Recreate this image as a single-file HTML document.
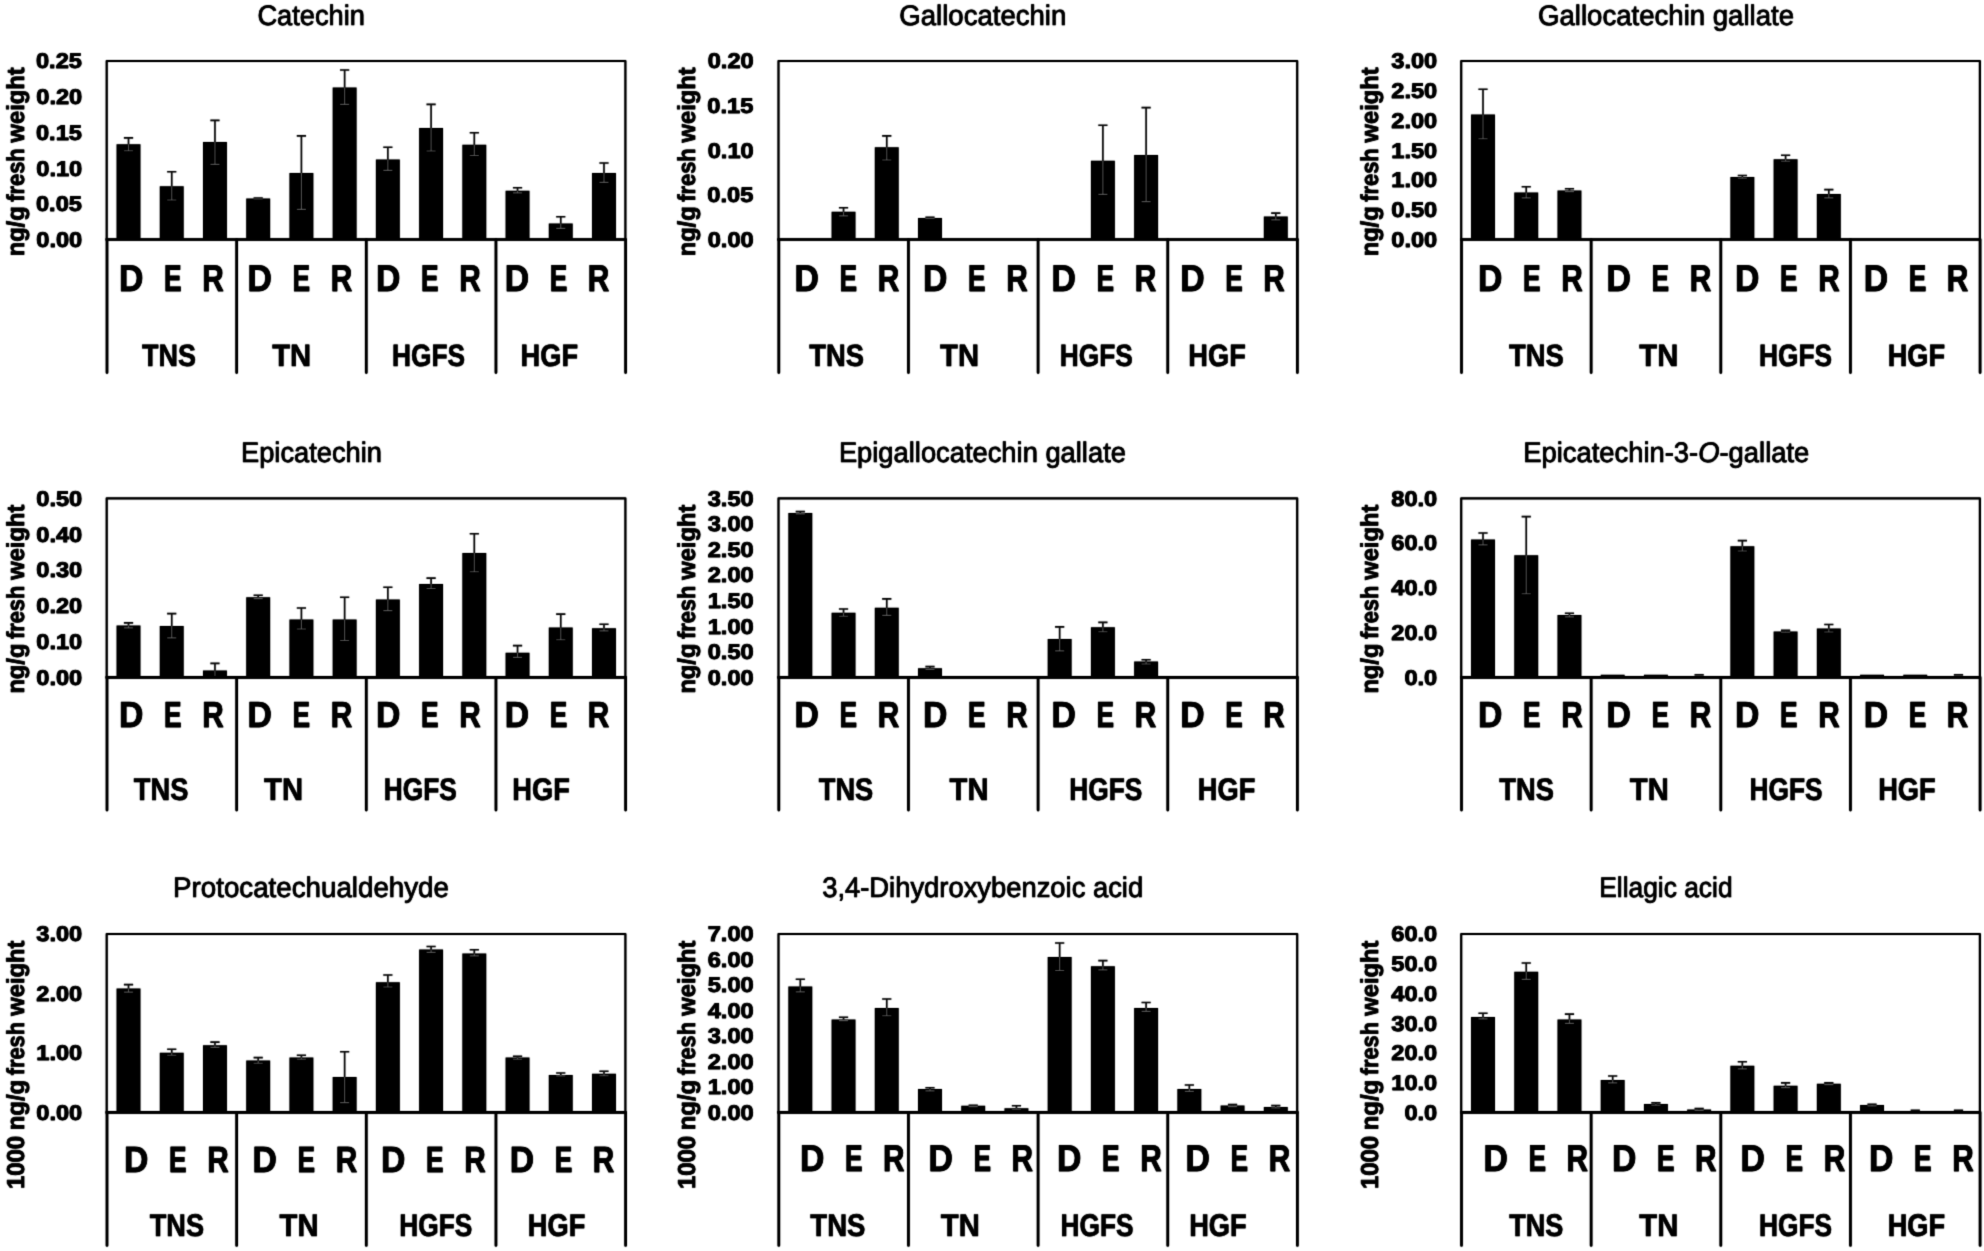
<!DOCTYPE html>
<html lang="en"><head><meta charset="utf-8"><title>Phenolic compound contents in D, E and R samples of TNS, TN, HGFS and HGF</title>
<style>
html,body{margin:0;padding:0;background:#fff}
body{width:1984px;height:1251px;overflow:hidden;font-family:"Liberation Sans", Arial, Helvetica, sans-serif}
svg{display:block}
text{font-family:"Liberation Sans", Arial, Helvetica, sans-serif;font-kerning:none;text-rendering:geometricPrecision;fill:#000;stroke:#000;stroke-linejoin:round;vector-effect:non-scaling-stroke}
.tt{font-size:26.6px;stroke-width:0.65px}
.tk{font-size:21.3px;font-weight:700;stroke-width:0.8px}
.ax{font-size:24.0px;font-weight:700;stroke-width:0.7px}
.lb{font-size:40.0px;font-weight:700;stroke-width:0.9px}
.gp{font-size:40.0px;font-weight:700;stroke-width:0.75px}
.bars{fill:#000}
.frame,.divider,.baseline{fill:none;stroke:#000;stroke-linejoin:round;stroke-linecap:round}
.frame{stroke-width:2.15px}
.divider{stroke-width:2.75px}
.baseline{stroke-width:2.6px;stroke-linecap:butt}
.err-out{fill:none;stroke:#161616;stroke-width:1.6px}
.err-in{fill:none;stroke:#787878;stroke-width:1.15px}
</style></head><body>
<svg width="1984" height="1251" viewBox="0 0 1984 1251" role="img">
<defs><filter id="soft" x="0" y="0" width="1984" height="1251" filterUnits="userSpaceOnUse" color-interpolation-filters="sRGB"><feConvolveMatrix order="3" kernelMatrix="225 1050 225 1050 4900 1050 225 1050 225" divisor="10000" edgeMode="duplicate" preserveAlpha="true"/><feComponentTransfer><feFuncR type="gamma" exponent="1.35"/><feFuncG type="gamma" exponent="1.35"/><feFuncB type="gamma" exponent="1.35"/></feComponentTransfer></filter></defs>
<g filter="url(#soft)">
<rect width="1984" height="1251" fill="#fff"/>
<g class="chart" id="chart-catechin">
<clipPath id="clip0"><path d="M116.56 239.5V144.3h23.9V239.5zM159.79 239.5V186.2h23.9V239.5zM203.01 239.5V141.9h23.9V239.5zM246.24 239.5V198.4h23.9V239.5zM289.46 239.5V173h23.9V239.5zM332.69 239.5V87.6h23.9V239.5zM375.91 239.5V159.5h23.9V239.5zM419.14 239.5V128h23.9V239.5zM462.36 239.5V144.7h23.9V239.5zM505.59 239.5V190.7h23.9V239.5zM548.81 239.5V223.5h23.9V239.5zM592.04 239.5V173.1h23.9V239.5z"/></clipPath>
<path class="err-out" d="M123.91 137.9h9.2M128.51 137.9V150.7M123.91 150.7h9.2M167.14 171.8h9.2M171.74 171.8V200M167.14 200h9.2M210.36 120.4h9.2M214.96 120.4V164.3M210.36 164.3h9.2M253.59 198h9.2M258.19 198V199M253.59 199h9.2M296.81 135.9h9.2M301.41 135.9V209.3M296.81 209.3h9.2M340.04 70h9.2M344.64 70V104.4M340.04 104.4h9.2M383.26 147.2h9.2M387.86 147.2V170.4M383.26 170.4h9.2M426.49 104.4h9.2M431.09 104.4V151M426.49 151h9.2M469.71 132.7h9.2M474.31 132.7V155.5M469.71 155.5h9.2M512.94 187.8h9.2M517.54 187.8V192.8M512.94 192.8h9.2M556.16 216.8h9.2M560.76 216.8V228.3M556.16 228.3h9.2M599.39 163h9.2M603.99 163V182.4M599.39 182.4h9.2"/>
<path class="bars" d="M116.56 239.5V144.3h23.9V239.5zM159.79 239.5V186.2h23.9V239.5zM203.01 239.5V141.9h23.9V239.5zM246.24 239.5V198.4h23.9V239.5zM289.46 239.5V173h23.9V239.5zM332.69 239.5V87.6h23.9V239.5zM375.91 239.5V159.5h23.9V239.5zM419.14 239.5V128h23.9V239.5zM462.36 239.5V144.7h23.9V239.5zM505.59 239.5V190.7h23.9V239.5zM548.81 239.5V223.5h23.9V239.5zM592.04 239.5V173.1h23.9V239.5z"/>
<path class="err-in" d="M123.91 137.9h9.2M128.51 137.9V150.7M123.91 150.7h9.2M167.14 171.8h9.2M171.74 171.8V200M167.14 200h9.2M210.36 120.4h9.2M214.96 120.4V164.3M210.36 164.3h9.2M253.59 198h9.2M258.19 198V199M253.59 199h9.2M296.81 135.9h9.2M301.41 135.9V209.3M296.81 209.3h9.2M340.04 70h9.2M344.64 70V104.4M340.04 104.4h9.2M383.26 147.2h9.2M387.86 147.2V170.4M383.26 170.4h9.2M426.49 104.4h9.2M431.09 104.4V151M426.49 151h9.2M469.71 132.7h9.2M474.31 132.7V155.5M469.71 155.5h9.2M512.94 187.8h9.2M517.54 187.8V192.8M512.94 192.8h9.2M556.16 216.8h9.2M560.76 216.8V228.3M556.16 228.3h9.2M599.39 163h9.2M603.99 163V182.4M599.39 182.4h9.2" clip-path="url(#clip0)"/>
<rect class="frame" x="106.7" y="61" width="518.7" height="178.5"/>
<path class="divider" d="M107 239.5V372.5M236.65 239.5V372.5M366.3 239.5V372.5M495.95 239.5V372.5M625.6 239.5V372.5"/>
<path class="baseline" d="M105.55 239.5H626.55"/>
<text class="tt" transform="translate(257.44 24.5) scale(1.0240 1.0600)">Catechin</text>
<text class="ax" transform="translate(23.6 67.3) rotate(-90) scale(1 1.0200)"><tspan x="-189.01" textLength="49.94" lengthAdjust="spacingAndGlyphs">ng/g</tspan> <tspan x="-134.52" textLength="53.53" lengthAdjust="spacingAndGlyphs">fresh</tspan> <tspan x="-75.18" textLength="75.12" lengthAdjust="spacingAndGlyphs">weight</tspan></text>
<text class="tk" transform="translate(35.95 68.4) scale(1.1097 1)">0.25</text>
<text class="tk" transform="translate(36.27 104.1) scale(1.1097 1)">0.20</text>
<text class="tk" transform="translate(35.95 139.8) scale(1.1097 1)">0.15</text>
<text class="tk" transform="translate(36.27 175.5) scale(1.1097 1)">0.10</text>
<text class="tk" transform="translate(35.95 211.2) scale(1.1097 1)">0.05</text>
<text class="tk" transform="translate(36.27 246.9) scale(1.1097 1)">0.00</text>
<text class="lb" transform="translate(118.99 291.35) scale(0.8438 0.9339)">D</text>
<text class="lb" transform="translate(163.99 291.35) scale(0.6595 0.9339)">E</text>
<text class="lb" transform="translate(202.16 291.35) scale(0.7444 0.9339)">R</text>
<text class="lb" transform="translate(247.54 291.35) scale(0.8438 0.9339)">D</text>
<text class="lb" transform="translate(292.54 291.35) scale(0.6595 0.9339)">E</text>
<text class="lb" transform="translate(330.71 291.35) scale(0.7444 0.9339)">R</text>
<text class="lb" transform="translate(376.09 291.35) scale(0.8438 0.9339)">D</text>
<text class="lb" transform="translate(421.09 291.35) scale(0.6595 0.9339)">E</text>
<text class="lb" transform="translate(459.26 291.35) scale(0.7444 0.9339)">R</text>
<text class="lb" transform="translate(504.64 291.35) scale(0.8438 0.9339)">D</text>
<text class="lb" transform="translate(549.64 291.35) scale(0.6595 0.9339)">E</text>
<text class="lb" transform="translate(587.81 291.35) scale(0.7444 0.9339)">R</text>
<text class="gp" transform="translate(142.07 366.32) scale(0.6738 0.7685)">TNS</text>
<text class="gp" transform="translate(272.25 366.32) scale(0.7304 0.7685)">TN</text>
<text class="gp" transform="translate(392.02 366.32) scale(0.6573 0.7685)">HGFS</text>
<text class="gp" transform="translate(520.55 366.32) scale(0.6806 0.7685)">HGF</text>
</g>
<g class="chart" id="chart-gallocatechin">
<clipPath id="clip1"><path d="M831.59 239.5V211.8h23.9V239.5zM874.81 239.5V147.2h23.9V239.5zM918.04 239.5V217.9h23.9V239.5zM1090.94 239.5V160.8h23.9V239.5zM1134.16 239.5V155h23.9V239.5zM1263.84 239.5V216.6h23.9V239.5z"/></clipPath>
<path class="err-out" d="M838.94 207.8h9.2M843.54 207.8V215.8M838.94 215.8h9.2M882.16 135.9h9.2M886.76 135.9V160M882.16 160h9.2M925.39 217.4h9.2M929.99 217.4V218.5M925.39 218.5h9.2M1098.29 125.2h9.2M1102.89 125.2V194.4M1098.29 194.4h9.2M1141.51 107.6h9.2M1146.11 107.6V201.6M1141.51 201.6h9.2M1271.19 213.1h9.2M1275.79 213.1V219.8M1271.19 219.8h9.2"/>
<path class="bars" d="M831.59 239.5V211.8h23.9V239.5zM874.81 239.5V147.2h23.9V239.5zM918.04 239.5V217.9h23.9V239.5zM1090.94 239.5V160.8h23.9V239.5zM1134.16 239.5V155h23.9V239.5zM1263.84 239.5V216.6h23.9V239.5z"/>
<path class="err-in" d="M838.94 207.8h9.2M843.54 207.8V215.8M838.94 215.8h9.2M882.16 135.9h9.2M886.76 135.9V160M882.16 160h9.2M925.39 217.4h9.2M929.99 217.4V218.5M925.39 218.5h9.2M1098.29 125.2h9.2M1102.89 125.2V194.4M1098.29 194.4h9.2M1141.51 107.6h9.2M1146.11 107.6V201.6M1141.51 201.6h9.2M1271.19 213.1h9.2M1275.79 213.1V219.8M1271.19 219.8h9.2" clip-path="url(#clip1)"/>
<rect class="frame" x="778.5" y="61" width="518.7" height="178.5"/>
<path class="divider" d="M778.8 239.5V372.5M908.45 239.5V372.5M1038.1 239.5V372.5M1167.75 239.5V372.5M1297.4 239.5V372.5"/>
<path class="baseline" d="M777.35 239.5H1298.35"/>
<text class="tt" transform="translate(899.34 24.5) scale(1.0357 1.0600)">Gallocatechin</text>
<text class="ax" transform="translate(695 67.3) rotate(-90) scale(1 1.0200)"><tspan x="-189.01" textLength="49.94" lengthAdjust="spacingAndGlyphs">ng/g</tspan> <tspan x="-134.52" textLength="53.53" lengthAdjust="spacingAndGlyphs">fresh</tspan> <tspan x="-75.18" textLength="75.12" lengthAdjust="spacingAndGlyphs">weight</tspan></text>
<text class="tk" transform="translate(707.67 68.4) scale(1.1097 1)">0.20</text>
<text class="tk" transform="translate(707.35 113.03) scale(1.1097 1)">0.15</text>
<text class="tk" transform="translate(707.67 157.65) scale(1.1097 1)">0.10</text>
<text class="tk" transform="translate(707.35 202.28) scale(1.1097 1)">0.05</text>
<text class="tk" transform="translate(707.67 246.9) scale(1.1097 1)">0.00</text>
<text class="lb" transform="translate(794.49 291.35) scale(0.8438 0.9339)">D</text>
<text class="lb" transform="translate(839.49 291.35) scale(0.6595 0.9339)">E</text>
<text class="lb" transform="translate(877.66 291.35) scale(0.7444 0.9339)">R</text>
<text class="lb" transform="translate(923.04 291.35) scale(0.8438 0.9339)">D</text>
<text class="lb" transform="translate(968.04 291.35) scale(0.6595 0.9339)">E</text>
<text class="lb" transform="translate(1006.21 291.35) scale(0.7444 0.9339)">R</text>
<text class="lb" transform="translate(1051.59 291.35) scale(0.8438 0.9339)">D</text>
<text class="lb" transform="translate(1096.59 291.35) scale(0.6595 0.9339)">E</text>
<text class="lb" transform="translate(1134.76 291.35) scale(0.7444 0.9339)">R</text>
<text class="lb" transform="translate(1180.14 291.35) scale(0.8438 0.9339)">D</text>
<text class="lb" transform="translate(1225.14 291.35) scale(0.6595 0.9339)">E</text>
<text class="lb" transform="translate(1263.31 291.35) scale(0.7444 0.9339)">R</text>
<text class="gp" transform="translate(809.27 366.32) scale(0.6841 0.7685)">TNS</text>
<text class="gp" transform="translate(940.05 366.32) scale(0.7304 0.7685)">TN</text>
<text class="gp" transform="translate(1059.82 366.32) scale(0.6573 0.7685)">HGFS</text>
<text class="gp" transform="translate(1188.35 366.32) scale(0.6806 0.7685)">HGF</text>
</g>
<g class="chart" id="chart-gallocatechin-gallate">
<clipPath id="clip2"><path d="M1471.06 239.5V114.4h23.9V239.5zM1514.29 239.5V192.6h23.9V239.5zM1557.51 239.5V190.4h23.9V239.5zM1730.41 239.5V177.1h23.9V239.5zM1773.64 239.5V159.2h23.9V239.5zM1816.86 239.5V193.9h23.9V239.5z"/></clipPath>
<path class="err-out" d="M1478.41 89.2h9.2M1483.01 89.2V138.7M1478.41 138.7h9.2M1521.64 186.7h9.2M1526.24 186.7V197.9M1521.64 197.9h9.2M1564.86 188.8h9.2M1569.46 188.8V191.6M1564.86 191.6h9.2M1737.76 175.5h9.2M1742.36 175.5V178.2M1737.76 178.2h9.2M1780.99 155.2h9.2M1785.59 155.2V161.2M1780.99 161.2h9.2M1824.21 189.6h9.2M1828.81 189.6V197.9M1824.21 197.9h9.2"/>
<path class="bars" d="M1471.06 239.5V114.4h23.9V239.5zM1514.29 239.5V192.6h23.9V239.5zM1557.51 239.5V190.4h23.9V239.5zM1730.41 239.5V177.1h23.9V239.5zM1773.64 239.5V159.2h23.9V239.5zM1816.86 239.5V193.9h23.9V239.5z"/>
<path class="err-in" d="M1478.41 89.2h9.2M1483.01 89.2V138.7M1478.41 138.7h9.2M1521.64 186.7h9.2M1526.24 186.7V197.9M1521.64 197.9h9.2M1564.86 188.8h9.2M1569.46 188.8V191.6M1564.86 191.6h9.2M1737.76 175.5h9.2M1742.36 175.5V178.2M1737.76 178.2h9.2M1780.99 155.2h9.2M1785.59 155.2V161.2M1780.99 161.2h9.2M1824.21 189.6h9.2M1828.81 189.6V197.9M1824.21 197.9h9.2" clip-path="url(#clip2)"/>
<rect class="frame" x="1461.2" y="61" width="518.7" height="178.5"/>
<path class="divider" d="M1461.5 239.5V372.5M1591.15 239.5V372.5M1720.8 239.5V372.5M1850.45 239.5V372.5M1980.1 239.5V372.5"/>
<path class="baseline" d="M1460.05 239.5H1981.05"/>
<text class="tt" transform="translate(1538.04 24.5) scale(1.0369 1.0600)">Gallocatechin gallate</text>
<text class="ax" transform="translate(1378.3 67.3) rotate(-90) scale(1 1.0200)"><tspan x="-189.01" textLength="49.94" lengthAdjust="spacingAndGlyphs">ng/g</tspan> <tspan x="-134.52" textLength="53.53" lengthAdjust="spacingAndGlyphs">fresh</tspan> <tspan x="-75.18" textLength="75.12" lengthAdjust="spacingAndGlyphs">weight</tspan></text>
<text class="tk" transform="translate(1391.27 68.4) scale(1.1097 1)">3.00</text>
<text class="tk" transform="translate(1391.27 98.15) scale(1.1097 1)">2.50</text>
<text class="tk" transform="translate(1391.27 127.9) scale(1.1097 1)">2.00</text>
<text class="tk" transform="translate(1391.27 157.65) scale(1.1097 1)">1.50</text>
<text class="tk" transform="translate(1391.27 187.4) scale(1.1097 1)">1.00</text>
<text class="tk" transform="translate(1391.27 217.15) scale(1.1097 1)">0.50</text>
<text class="tk" transform="translate(1391.27 246.9) scale(1.1097 1)">0.00</text>
<text class="lb" transform="translate(1477.99 291.35) scale(0.8438 0.9339)">D</text>
<text class="lb" transform="translate(1522.99 291.35) scale(0.6595 0.9339)">E</text>
<text class="lb" transform="translate(1561.16 291.35) scale(0.7444 0.9339)">R</text>
<text class="lb" transform="translate(1606.54 291.35) scale(0.8438 0.9339)">D</text>
<text class="lb" transform="translate(1651.54 291.35) scale(0.6595 0.9339)">E</text>
<text class="lb" transform="translate(1689.71 291.35) scale(0.7444 0.9339)">R</text>
<text class="lb" transform="translate(1735.09 291.35) scale(0.8438 0.9339)">D</text>
<text class="lb" transform="translate(1780.09 291.35) scale(0.6595 0.9339)">E</text>
<text class="lb" transform="translate(1818.26 291.35) scale(0.7444 0.9339)">R</text>
<text class="lb" transform="translate(1863.64 291.35) scale(0.8438 0.9339)">D</text>
<text class="lb" transform="translate(1908.64 291.35) scale(0.6595 0.9339)">E</text>
<text class="lb" transform="translate(1946.81 291.35) scale(0.7444 0.9339)">R</text>
<text class="gp" transform="translate(1508.97 366.32) scale(0.6841 0.7685)">TNS</text>
<text class="gp" transform="translate(1639.35 366.32) scale(0.7304 0.7685)">TN</text>
<text class="gp" transform="translate(1759.12 366.32) scale(0.6573 0.7685)">HGFS</text>
<text class="gp" transform="translate(1887.65 366.32) scale(0.6806 0.7685)">HGF</text>
</g>
<g class="chart" id="chart-epicatechin">
<clipPath id="clip3"><path d="M116.56 677.4V625.6h23.9V677.4zM159.79 677.4V626.1h23.9V677.4zM203.01 677.4V670.6h23.9V677.4zM246.24 677.4V597.3h23.9V677.4zM289.46 677.4V619.4h23.9V677.4zM332.69 677.4V619.4h23.9V677.4zM375.91 677.4V599.4h23.9V677.4zM419.14 677.4V584.1h23.9V677.4zM462.36 677.4V553h23.9V677.4zM505.59 677.4V652.8h23.9V677.4zM548.81 677.4V627.4h23.9V677.4zM592.04 677.4V628.2h23.9V677.4z"/></clipPath>
<path class="err-out" d="M123.91 622.9h9.2M128.51 622.9V627.9M123.91 627.9h9.2M167.14 613.6h9.2M171.74 613.6V637.8M167.14 637.8h9.2M210.36 663.4h9.2M214.96 663.4V676.8M210.36 676.8h9.2M253.59 595.2h9.2M258.19 595.2V598.6M253.59 598.6h9.2M296.81 608h9.2M301.41 608V629M296.81 629h9.2M340.04 597.3h9.2M344.64 597.3V640.5M340.04 640.5h9.2M383.26 587.3h9.2M387.86 587.3V610.6M383.26 610.6h9.2M426.49 578.1h9.2M431.09 578.1V588.5M426.49 588.5h9.2M469.71 533.7h9.2M474.31 533.7V571.7M469.71 571.7h9.2M512.94 645.6h9.2M517.54 645.6V657.3M512.94 657.3h9.2M556.16 614.1h9.2M560.76 614.1V639.7M556.16 639.7h9.2M599.39 624.2h9.2M603.99 624.2V630.8M599.39 630.8h9.2"/>
<path class="bars" d="M116.56 677.4V625.6h23.9V677.4zM159.79 677.4V626.1h23.9V677.4zM203.01 677.4V670.6h23.9V677.4zM246.24 677.4V597.3h23.9V677.4zM289.46 677.4V619.4h23.9V677.4zM332.69 677.4V619.4h23.9V677.4zM375.91 677.4V599.4h23.9V677.4zM419.14 677.4V584.1h23.9V677.4zM462.36 677.4V553h23.9V677.4zM505.59 677.4V652.8h23.9V677.4zM548.81 677.4V627.4h23.9V677.4zM592.04 677.4V628.2h23.9V677.4z"/>
<path class="err-in" d="M123.91 622.9h9.2M128.51 622.9V627.9M123.91 627.9h9.2M167.14 613.6h9.2M171.74 613.6V637.8M167.14 637.8h9.2M210.36 663.4h9.2M214.96 663.4V676.8M210.36 676.8h9.2M253.59 595.2h9.2M258.19 595.2V598.6M253.59 598.6h9.2M296.81 608h9.2M301.41 608V629M296.81 629h9.2M340.04 597.3h9.2M344.64 597.3V640.5M340.04 640.5h9.2M383.26 587.3h9.2M387.86 587.3V610.6M383.26 610.6h9.2M426.49 578.1h9.2M431.09 578.1V588.5M426.49 588.5h9.2M469.71 533.7h9.2M474.31 533.7V571.7M469.71 571.7h9.2M512.94 645.6h9.2M517.54 645.6V657.3M512.94 657.3h9.2M556.16 614.1h9.2M560.76 614.1V639.7M556.16 639.7h9.2M599.39 624.2h9.2M603.99 624.2V630.8M599.39 630.8h9.2" clip-path="url(#clip3)"/>
<rect class="frame" x="106.7" y="498.3" width="518.7" height="179.1"/>
<path class="divider" d="M107 677.4V810.1M236.65 677.4V810.1M366.3 677.4V810.1M495.95 677.4V810.1M625.6 677.4V810.1"/>
<path class="baseline" d="M105.55 677.4H626.55"/>
<text class="tt" transform="translate(240.99 461.5) scale(1.0257 1.0600)">Epicatechin</text>
<text class="ax" transform="translate(23.6 504.6) rotate(-90) scale(1 1.0200)"><tspan x="-189.01" textLength="49.94" lengthAdjust="spacingAndGlyphs">ng/g</tspan> <tspan x="-134.52" textLength="53.53" lengthAdjust="spacingAndGlyphs">fresh</tspan> <tspan x="-75.18" textLength="75.12" lengthAdjust="spacingAndGlyphs">weight</tspan></text>
<text class="tk" transform="translate(36.27 505.7) scale(1.1097 1)">0.50</text>
<text class="tk" transform="translate(36.27 541.52) scale(1.1097 1)">0.40</text>
<text class="tk" transform="translate(36.27 577.34) scale(1.1097 1)">0.30</text>
<text class="tk" transform="translate(36.27 613.16) scale(1.1097 1)">0.20</text>
<text class="tk" transform="translate(36.27 648.98) scale(1.1097 1)">0.10</text>
<text class="tk" transform="translate(36.27 684.8) scale(1.1097 1)">0.00</text>
<text class="lb" transform="translate(118.99 726.95) scale(0.8438 0.9048)">D</text>
<text class="lb" transform="translate(163.99 726.95) scale(0.6595 0.9048)">E</text>
<text class="lb" transform="translate(202.16 726.95) scale(0.7444 0.9048)">R</text>
<text class="lb" transform="translate(247.54 726.95) scale(0.8438 0.9048)">D</text>
<text class="lb" transform="translate(292.54 726.95) scale(0.6595 0.9048)">E</text>
<text class="lb" transform="translate(330.71 726.95) scale(0.7444 0.9048)">R</text>
<text class="lb" transform="translate(376.09 726.95) scale(0.8438 0.9048)">D</text>
<text class="lb" transform="translate(421.09 726.95) scale(0.6595 0.9048)">E</text>
<text class="lb" transform="translate(459.26 726.95) scale(0.7444 0.9048)">R</text>
<text class="lb" transform="translate(504.64 726.95) scale(0.8438 0.9048)">D</text>
<text class="lb" transform="translate(549.64 726.95) scale(0.6595 0.9048)">E</text>
<text class="lb" transform="translate(587.81 726.95) scale(0.7444 0.9048)">R</text>
<text class="gp" transform="translate(133.87 799.92) scale(0.6802 0.7794)">TNS</text>
<text class="gp" transform="translate(264.05 799.92) scale(0.7304 0.7794)">TN</text>
<text class="gp" transform="translate(383.82 799.92) scale(0.6573 0.7794)">HGFS</text>
<text class="gp" transform="translate(512.35 799.92) scale(0.6806 0.7794)">HGF</text>
</g>
<g class="chart" id="chart-epigallocatechin-gallate">
<clipPath id="clip4"><path d="M788.36 677.4V512.9h23.9V677.4zM831.59 677.4V612.8h23.9V677.4zM874.81 677.4V607.7h23.9V677.4zM918.04 677.4V668.2h23.9V677.4zM1047.71 677.4V638.9h23.9V677.4zM1090.94 677.4V627.2h23.9V677.4zM1134.16 677.4V661.6h23.9V677.4z"/></clipPath>
<path class="err-out" d="M795.71 511.6h9.2M800.31 511.6V513.9M795.71 513.9h9.2M838.94 609h9.2M843.54 609V616.2M838.94 616.2h9.2M882.16 598.9h9.2M886.76 598.9V615.4M882.16 615.4h9.2M925.39 666.6h9.2M929.99 666.6V669.4M925.39 669.4h9.2M1055.06 626.9h9.2M1059.66 626.9V650.9M1055.06 650.9h9.2M1098.29 622.4h9.2M1102.89 622.4V631.7M1098.29 631.7h9.2M1141.51 659.7h9.2M1146.11 659.7V664M1141.51 664h9.2"/>
<path class="bars" d="M788.36 677.4V512.9h23.9V677.4zM831.59 677.4V612.8h23.9V677.4zM874.81 677.4V607.7h23.9V677.4zM918.04 677.4V668.2h23.9V677.4zM1047.71 677.4V638.9h23.9V677.4zM1090.94 677.4V627.2h23.9V677.4zM1134.16 677.4V661.6h23.9V677.4z"/>
<path class="err-in" d="M795.71 511.6h9.2M800.31 511.6V513.9M795.71 513.9h9.2M838.94 609h9.2M843.54 609V616.2M838.94 616.2h9.2M882.16 598.9h9.2M886.76 598.9V615.4M882.16 615.4h9.2M925.39 666.6h9.2M929.99 666.6V669.4M925.39 669.4h9.2M1055.06 626.9h9.2M1059.66 626.9V650.9M1055.06 650.9h9.2M1098.29 622.4h9.2M1102.89 622.4V631.7M1098.29 631.7h9.2M1141.51 659.7h9.2M1146.11 659.7V664M1141.51 664h9.2" clip-path="url(#clip4)"/>
<rect class="frame" x="778.5" y="498.3" width="518.7" height="179.1"/>
<path class="divider" d="M778.8 677.4V810.1M908.45 677.4V810.1M1038.1 677.4V810.1M1167.75 677.4V810.1M1297.4 677.4V810.1"/>
<path class="baseline" d="M777.35 677.4H1298.35"/>
<text class="tt" transform="translate(838.88 461.5) scale(1.0272 1.0600)">Epigallocatechin gallate</text>
<text class="ax" transform="translate(695 504.6) rotate(-90) scale(1 1.0200)"><tspan x="-189.01" textLength="49.94" lengthAdjust="spacingAndGlyphs">ng/g</tspan> <tspan x="-134.52" textLength="53.53" lengthAdjust="spacingAndGlyphs">fresh</tspan> <tspan x="-75.18" textLength="75.12" lengthAdjust="spacingAndGlyphs">weight</tspan></text>
<text class="tk" transform="translate(707.67 505.7) scale(1.1097 1)">3.50</text>
<text class="tk" transform="translate(707.67 531.29) scale(1.1097 1)">3.00</text>
<text class="tk" transform="translate(707.67 556.87) scale(1.1097 1)">2.50</text>
<text class="tk" transform="translate(707.67 582.46) scale(1.1097 1)">2.00</text>
<text class="tk" transform="translate(707.67 608.04) scale(1.1097 1)">1.50</text>
<text class="tk" transform="translate(707.67 633.63) scale(1.1097 1)">1.00</text>
<text class="tk" transform="translate(707.67 659.21) scale(1.1097 1)">0.50</text>
<text class="tk" transform="translate(707.67 684.8) scale(1.1097 1)">0.00</text>
<text class="lb" transform="translate(794.49 726.95) scale(0.8438 0.9048)">D</text>
<text class="lb" transform="translate(839.49 726.95) scale(0.6595 0.9048)">E</text>
<text class="lb" transform="translate(877.66 726.95) scale(0.7444 0.9048)">R</text>
<text class="lb" transform="translate(923.04 726.95) scale(0.8438 0.9048)">D</text>
<text class="lb" transform="translate(968.04 726.95) scale(0.6595 0.9048)">E</text>
<text class="lb" transform="translate(1006.21 726.95) scale(0.7444 0.9048)">R</text>
<text class="lb" transform="translate(1051.59 726.95) scale(0.8438 0.9048)">D</text>
<text class="lb" transform="translate(1096.59 726.95) scale(0.6595 0.9048)">E</text>
<text class="lb" transform="translate(1134.76 726.95) scale(0.7444 0.9048)">R</text>
<text class="lb" transform="translate(1180.14 726.95) scale(0.8438 0.9048)">D</text>
<text class="lb" transform="translate(1225.14 726.95) scale(0.6595 0.9048)">E</text>
<text class="lb" transform="translate(1263.31 726.95) scale(0.7444 0.9048)">R</text>
<text class="gp" transform="translate(818.77 799.92) scale(0.6809 0.7794)">TNS</text>
<text class="gp" transform="translate(949.55 799.92) scale(0.7304 0.7794)">TN</text>
<text class="gp" transform="translate(1069.32 799.92) scale(0.6573 0.7794)">HGFS</text>
<text class="gp" transform="translate(1197.85 799.92) scale(0.6806 0.7794)">HGF</text>
</g>
<g class="chart" id="chart-epicatechin-3-o-gallate">
<clipPath id="clip5"><path d="M1471.06 677.4V539.4h23.9V677.4zM1514.29 677.4V555.3h23.9V677.4zM1557.51 677.4V614.9h23.9V677.4zM1600.74 677.4V674.8h23.9V677.4zM1643.96 677.4V674.8h23.9V677.4zM1687.19 677.4V677h23.9V677.4zM1730.41 677.4V546.2h23.9V677.4zM1773.64 677.4V631.4h23.9V677.4zM1816.86 677.4V628.5h23.9V677.4zM1860.09 677.4V674.8h23.9V677.4zM1903.31 677.4V674.8h23.9V677.4zM1946.54 677.4V677h23.9V677.4z"/></clipPath>
<path class="err-out" d="M1478.41 533h9.2M1483.01 533V544.9M1478.41 544.9h9.2M1521.64 516.6h9.2M1526.24 516.6V593.7M1521.64 593.7h9.2M1564.86 613.3h9.2M1569.46 613.3V616.8M1564.86 616.8h9.2M1694.54 674.9h9.2M1737.76 540.6h9.2M1742.36 540.6V551M1737.76 551h9.2M1780.99 630.4h9.2M1785.59 630.4V632.2M1780.99 632.2h9.2M1824.21 624.5h9.2M1828.81 624.5V632M1824.21 632h9.2M1953.89 674.9h9.2"/>
<path class="bars" d="M1471.06 677.4V539.4h23.9V677.4zM1514.29 677.4V555.3h23.9V677.4zM1557.51 677.4V614.9h23.9V677.4zM1600.74 677.4V674.8h23.9V677.4zM1643.96 677.4V674.8h23.9V677.4zM1687.19 677.4V677h23.9V677.4zM1730.41 677.4V546.2h23.9V677.4zM1773.64 677.4V631.4h23.9V677.4zM1816.86 677.4V628.5h23.9V677.4zM1860.09 677.4V674.8h23.9V677.4zM1903.31 677.4V674.8h23.9V677.4zM1946.54 677.4V677h23.9V677.4z"/>
<path class="err-in" d="M1478.41 533h9.2M1483.01 533V544.9M1478.41 544.9h9.2M1521.64 516.6h9.2M1526.24 516.6V593.7M1521.64 593.7h9.2M1564.86 613.3h9.2M1569.46 613.3V616.8M1564.86 616.8h9.2M1694.54 674.9h9.2M1737.76 540.6h9.2M1742.36 540.6V551M1737.76 551h9.2M1780.99 630.4h9.2M1785.59 630.4V632.2M1780.99 632.2h9.2M1824.21 624.5h9.2M1828.81 624.5V632M1824.21 632h9.2M1953.89 674.9h9.2" clip-path="url(#clip5)"/>
<rect class="frame" x="1461.2" y="498.3" width="518.7" height="179.1"/>
<path class="divider" d="M1461.5 677.4V810.1M1591.15 677.4V810.1M1720.8 677.4V810.1M1850.45 677.4V810.1M1980.1 677.4V810.1"/>
<path class="baseline" d="M1460.05 677.4H1981.05"/>
<text class="tt" transform="translate(1523.28 461.5) scale(1.0290 1.0600)">Epicatechin-3-<tspan font-style="italic">O</tspan>-gallate</text>
<text class="ax" transform="translate(1378.3 504.6) rotate(-90) scale(1 1.0200)"><tspan x="-189.01" textLength="49.94" lengthAdjust="spacingAndGlyphs">ng/g</tspan> <tspan x="-134.52" textLength="53.53" lengthAdjust="spacingAndGlyphs">fresh</tspan> <tspan x="-75.18" textLength="75.12" lengthAdjust="spacingAndGlyphs">weight</tspan></text>
<text class="tk" transform="translate(1391.27 505.7) scale(1.1097 1)">80.0</text>
<text class="tk" transform="translate(1391.27 550.48) scale(1.1097 1)">60.0</text>
<text class="tk" transform="translate(1391.27 595.25) scale(1.1097 1)">40.0</text>
<text class="tk" transform="translate(1391.27 640.02) scale(1.1097 1)">20.0</text>
<text class="tk" transform="translate(1404.41 684.8) scale(1.1097 1)">0.0</text>
<text class="lb" transform="translate(1477.99 726.95) scale(0.8438 0.9048)">D</text>
<text class="lb" transform="translate(1522.99 726.95) scale(0.6595 0.9048)">E</text>
<text class="lb" transform="translate(1561.16 726.95) scale(0.7444 0.9048)">R</text>
<text class="lb" transform="translate(1606.54 726.95) scale(0.8438 0.9048)">D</text>
<text class="lb" transform="translate(1651.54 726.95) scale(0.6595 0.9048)">E</text>
<text class="lb" transform="translate(1689.71 726.95) scale(0.7444 0.9048)">R</text>
<text class="lb" transform="translate(1735.09 726.95) scale(0.8438 0.9048)">D</text>
<text class="lb" transform="translate(1780.09 726.95) scale(0.6595 0.9048)">E</text>
<text class="lb" transform="translate(1818.26 726.95) scale(0.7444 0.9048)">R</text>
<text class="lb" transform="translate(1863.64 726.95) scale(0.8438 0.9048)">D</text>
<text class="lb" transform="translate(1908.64 726.95) scale(0.6595 0.9048)">E</text>
<text class="lb" transform="translate(1946.81 726.95) scale(0.7444 0.9048)">R</text>
<text class="gp" transform="translate(1499.27 799.92) scale(0.6828 0.7794)">TNS</text>
<text class="gp" transform="translate(1629.85 799.92) scale(0.7304 0.7794)">TN</text>
<text class="gp" transform="translate(1749.62 799.92) scale(0.6573 0.7794)">HGFS</text>
<text class="gp" transform="translate(1878.15 799.92) scale(0.6806 0.7794)">HGF</text>
</g>
<g class="chart" id="chart-protocatechualdehyde">
<clipPath id="clip6"><path d="M116.56 1112.4V988.6h23.9V1112.4zM159.79 1112.4V1052.8h23.9V1112.4zM203.01 1112.4V1045.3h23.9V1112.4zM246.24 1112.4V1060.5h23.9V1112.4zM289.46 1112.4V1057.6h23.9V1112.4zM332.69 1112.4V1077h23.9V1112.4zM375.91 1112.4V982.2h23.9V1112.4zM419.14 1112.4V949.4h23.9V1112.4zM462.36 1112.4V953.4h23.9V1112.4zM505.59 1112.4V1057.6h23.9V1112.4zM548.81 1112.4V1074.9h23.9V1112.4zM592.04 1112.4V1073.8h23.9V1112.4z"/></clipPath>
<path class="err-out" d="M123.91 984.6h9.2M128.51 984.6V992.1M123.91 992.1h9.2M167.14 1049.3h9.2M171.74 1049.3V1055.2M167.14 1055.2h9.2M210.36 1042.1h9.2M214.96 1042.1V1047.4M210.36 1047.4h9.2M253.59 1057.6h9.2M258.19 1057.6V1063.2M253.59 1063.2h9.2M296.81 1055.2h9.2M301.41 1055.2V1059.2M296.81 1059.2h9.2M340.04 1051.7h9.2M344.64 1051.7V1102.6M340.04 1102.6h9.2M383.26 975h9.2M387.86 975V987M383.26 987h9.2M426.49 946.5h9.2M431.09 946.5V952.3M426.49 952.3h9.2M469.71 949.7h9.2M474.31 949.7V955.8M469.71 955.8h9.2M512.94 1056.2h9.2M517.54 1056.2V1059.2M512.94 1059.2h9.2M556.16 1073h9.2M560.76 1073V1076M556.16 1076h9.2M599.39 1071.2h9.2M603.99 1071.2V1075.7M599.39 1075.7h9.2"/>
<path class="bars" d="M116.56 1112.4V988.6h23.9V1112.4zM159.79 1112.4V1052.8h23.9V1112.4zM203.01 1112.4V1045.3h23.9V1112.4zM246.24 1112.4V1060.5h23.9V1112.4zM289.46 1112.4V1057.6h23.9V1112.4zM332.69 1112.4V1077h23.9V1112.4zM375.91 1112.4V982.2h23.9V1112.4zM419.14 1112.4V949.4h23.9V1112.4zM462.36 1112.4V953.4h23.9V1112.4zM505.59 1112.4V1057.6h23.9V1112.4zM548.81 1112.4V1074.9h23.9V1112.4zM592.04 1112.4V1073.8h23.9V1112.4z"/>
<path class="err-in" d="M123.91 984.6h9.2M128.51 984.6V992.1M123.91 992.1h9.2M167.14 1049.3h9.2M171.74 1049.3V1055.2M167.14 1055.2h9.2M210.36 1042.1h9.2M214.96 1042.1V1047.4M210.36 1047.4h9.2M253.59 1057.6h9.2M258.19 1057.6V1063.2M253.59 1063.2h9.2M296.81 1055.2h9.2M301.41 1055.2V1059.2M296.81 1059.2h9.2M340.04 1051.7h9.2M344.64 1051.7V1102.6M340.04 1102.6h9.2M383.26 975h9.2M387.86 975V987M383.26 987h9.2M426.49 946.5h9.2M431.09 946.5V952.3M426.49 952.3h9.2M469.71 949.7h9.2M474.31 949.7V955.8M469.71 955.8h9.2M512.94 1056.2h9.2M517.54 1056.2V1059.2M512.94 1059.2h9.2M556.16 1073h9.2M560.76 1073V1076M556.16 1076h9.2M599.39 1071.2h9.2M603.99 1071.2V1075.7M599.39 1075.7h9.2" clip-path="url(#clip6)"/>
<rect class="frame" x="106.7" y="934" width="518.7" height="178.4"/>
<path class="divider" d="M107 1112.4V1245.4M236.65 1112.4V1245.4M366.3 1112.4V1245.4M495.95 1112.4V1245.4M625.6 1112.4V1245.4"/>
<path class="baseline" d="M105.55 1112.4H626.55"/>
<text class="tt" transform="translate(173.05 897.3) scale(1.0425 1.0600)">Protocatechualdehyde</text>
<text class="ax" transform="translate(23.6 940.5) rotate(-90) scale(1 1.0200)"><tspan x="-248.56" textLength="53.19" lengthAdjust="spacingAndGlyphs">1000</tspan> <tspan x="-189.83" textLength="50.48" lengthAdjust="spacingAndGlyphs">ng/g</tspan> <tspan x="-134.72" textLength="53.22" lengthAdjust="spacingAndGlyphs">fresh</tspan> <tspan x="-75.18" textLength="75.12" lengthAdjust="spacingAndGlyphs">weight</tspan></text>
<text class="tk" transform="translate(36.27 941.4) scale(1.1097 1)">3.00</text>
<text class="tk" transform="translate(36.27 1000.87) scale(1.1097 1)">2.00</text>
<text class="tk" transform="translate(36.27 1060.33) scale(1.1097 1)">1.00</text>
<text class="tk" transform="translate(36.27 1119.8) scale(1.1097 1)">0.00</text>
<text class="lb" transform="translate(123.99 1172.15) scale(0.8438 0.9084)">D</text>
<text class="lb" transform="translate(168.99 1172.15) scale(0.6595 0.9084)">E</text>
<text class="lb" transform="translate(207.16 1172.15) scale(0.7444 0.9084)">R</text>
<text class="lb" transform="translate(252.54 1172.15) scale(0.8438 0.9084)">D</text>
<text class="lb" transform="translate(297.54 1172.15) scale(0.6595 0.9084)">E</text>
<text class="lb" transform="translate(335.71 1172.15) scale(0.7444 0.9084)">R</text>
<text class="lb" transform="translate(381.09 1172.15) scale(0.8438 0.9084)">D</text>
<text class="lb" transform="translate(426.09 1172.15) scale(0.6595 0.9084)">E</text>
<text class="lb" transform="translate(464.26 1172.15) scale(0.7444 0.9084)">R</text>
<text class="lb" transform="translate(509.64 1172.15) scale(0.8438 0.9084)">D</text>
<text class="lb" transform="translate(554.64 1172.15) scale(0.6595 0.9084)">E</text>
<text class="lb" transform="translate(592.81 1172.15) scale(0.7444 0.9084)">R</text>
<text class="gp" transform="translate(149.77 1235.72) scale(0.6789 0.7831)">TNS</text>
<text class="gp" transform="translate(279.55 1235.72) scale(0.7304 0.7831)">TN</text>
<text class="gp" transform="translate(399.32 1235.72) scale(0.6573 0.7831)">HGFS</text>
<text class="gp" transform="translate(527.85 1235.72) scale(0.6806 0.7831)">HGF</text>
</g>
<g class="chart" id="chart-dihydroxybenzoic-acid">
<clipPath id="clip7"><path d="M788.36 1112.4V986.5h23.9V1112.4zM831.59 1112.4V1019.4h23.9V1112.4zM874.81 1112.4V1008.1h23.9V1112.4zM918.04 1112.4V1089h23.9V1112.4zM961.26 1112.4V1105.8h23.9V1112.4zM1004.49 1112.4V1108.2h23.9V1112.4zM1047.71 1112.4V956.9h23.9V1112.4zM1090.94 1112.4V966.2h23.9V1112.4zM1134.16 1112.4V1008.1h23.9V1112.4zM1177.39 1112.4V1089h23.9V1112.4zM1220.61 1112.4V1105.6h23.9V1112.4zM1263.84 1112.4V1106.9h23.9V1112.4z"/></clipPath>
<path class="err-out" d="M795.71 979.3h9.2M800.31 979.3V991.8M795.71 991.8h9.2M838.94 1017.3h9.2M843.54 1017.3V1020.6M838.94 1020.6h9.2M882.16 999h9.2M886.76 999V1015.7M882.16 1015.7h9.2M925.39 1087.7h9.2M929.99 1087.7V1090.9M925.39 1090.9h9.2M968.61 1105.2h9.2M973.21 1105.2V1106.6M968.61 1106.6h9.2M1011.84 1105.8h9.2M1016.44 1105.8V1109.2M1011.84 1109.2h9.2M1055.06 943h9.2M1059.66 943V970.5M1055.06 970.5h9.2M1098.29 960.6h9.2M1102.89 960.6V969.8M1098.29 969.8h9.2M1141.51 1002.5h9.2M1146.11 1002.5V1011.3M1141.51 1011.3h9.2M1184.74 1085h9.2M1189.34 1085V1091.4M1184.74 1091.4h9.2M1227.96 1104.5h9.2M1232.56 1104.5V1106.6M1227.96 1106.6h9.2M1271.19 1105.6h9.2M1275.79 1105.6V1108M1271.19 1108h9.2"/>
<path class="bars" d="M788.36 1112.4V986.5h23.9V1112.4zM831.59 1112.4V1019.4h23.9V1112.4zM874.81 1112.4V1008.1h23.9V1112.4zM918.04 1112.4V1089h23.9V1112.4zM961.26 1112.4V1105.8h23.9V1112.4zM1004.49 1112.4V1108.2h23.9V1112.4zM1047.71 1112.4V956.9h23.9V1112.4zM1090.94 1112.4V966.2h23.9V1112.4zM1134.16 1112.4V1008.1h23.9V1112.4zM1177.39 1112.4V1089h23.9V1112.4zM1220.61 1112.4V1105.6h23.9V1112.4zM1263.84 1112.4V1106.9h23.9V1112.4z"/>
<path class="err-in" d="M795.71 979.3h9.2M800.31 979.3V991.8M795.71 991.8h9.2M838.94 1017.3h9.2M843.54 1017.3V1020.6M838.94 1020.6h9.2M882.16 999h9.2M886.76 999V1015.7M882.16 1015.7h9.2M925.39 1087.7h9.2M929.99 1087.7V1090.9M925.39 1090.9h9.2M968.61 1105.2h9.2M973.21 1105.2V1106.6M968.61 1106.6h9.2M1011.84 1105.8h9.2M1016.44 1105.8V1109.2M1011.84 1109.2h9.2M1055.06 943h9.2M1059.66 943V970.5M1055.06 970.5h9.2M1098.29 960.6h9.2M1102.89 960.6V969.8M1098.29 969.8h9.2M1141.51 1002.5h9.2M1146.11 1002.5V1011.3M1141.51 1011.3h9.2M1184.74 1085h9.2M1189.34 1085V1091.4M1184.74 1091.4h9.2M1227.96 1104.5h9.2M1232.56 1104.5V1106.6M1227.96 1106.6h9.2M1271.19 1105.6h9.2M1275.79 1105.6V1108M1271.19 1108h9.2" clip-path="url(#clip7)"/>
<rect class="frame" x="778.5" y="934" width="518.7" height="178.4"/>
<path class="divider" d="M778.8 1112.4V1245.4M908.45 1112.4V1245.4M1038.1 1112.4V1245.4M1167.75 1112.4V1245.4M1297.4 1112.4V1245.4"/>
<path class="baseline" d="M777.35 1112.4H1298.35"/>
<text class="tt" transform="translate(822.18 897.3) scale(1.0291 1.0600)">3,4-Dihydroxybenzoic acid</text>
<text class="ax" transform="translate(695 940.5) rotate(-90) scale(1 1.0200)"><tspan x="-248.56" textLength="53.19" lengthAdjust="spacingAndGlyphs">1000</tspan> <tspan x="-189.83" textLength="50.48" lengthAdjust="spacingAndGlyphs">ng/g</tspan> <tspan x="-134.72" textLength="53.22" lengthAdjust="spacingAndGlyphs">fresh</tspan> <tspan x="-75.18" textLength="75.12" lengthAdjust="spacingAndGlyphs">weight</tspan></text>
<text class="tk" transform="translate(707.67 941.4) scale(1.1097 1)">7.00</text>
<text class="tk" transform="translate(707.67 966.89) scale(1.1097 1)">6.00</text>
<text class="tk" transform="translate(707.67 992.37) scale(1.1097 1)">5.00</text>
<text class="tk" transform="translate(707.67 1017.86) scale(1.1097 1)">4.00</text>
<text class="tk" transform="translate(707.67 1043.34) scale(1.1097 1)">3.00</text>
<text class="tk" transform="translate(707.67 1068.83) scale(1.1097 1)">2.00</text>
<text class="tk" transform="translate(707.67 1094.31) scale(1.1097 1)">1.00</text>
<text class="tk" transform="translate(707.67 1119.8) scale(1.1097 1)">0.00</text>
<text class="lb" transform="translate(799.89 1171.35) scale(0.8438 0.9339)">D</text>
<text class="lb" transform="translate(844.89 1171.35) scale(0.6595 0.9339)">E</text>
<text class="lb" transform="translate(883.06 1171.35) scale(0.7444 0.9339)">R</text>
<text class="lb" transform="translate(928.44 1171.35) scale(0.8438 0.9339)">D</text>
<text class="lb" transform="translate(973.44 1171.35) scale(0.6595 0.9339)">E</text>
<text class="lb" transform="translate(1011.61 1171.35) scale(0.7444 0.9339)">R</text>
<text class="lb" transform="translate(1056.99 1171.35) scale(0.8438 0.9339)">D</text>
<text class="lb" transform="translate(1101.99 1171.35) scale(0.6595 0.9339)">E</text>
<text class="lb" transform="translate(1140.16 1171.35) scale(0.7444 0.9339)">R</text>
<text class="lb" transform="translate(1185.54 1171.35) scale(0.8438 0.9339)">D</text>
<text class="lb" transform="translate(1230.54 1171.35) scale(0.6595 0.9339)">E</text>
<text class="lb" transform="translate(1268.71 1171.35) scale(0.7444 0.9339)">R</text>
<text class="gp" transform="translate(810.37 1235.72) scale(0.6879 0.7831)">TNS</text>
<text class="gp" transform="translate(940.85 1235.72) scale(0.7304 0.7831)">TN</text>
<text class="gp" transform="translate(1060.62 1235.72) scale(0.6573 0.7831)">HGFS</text>
<text class="gp" transform="translate(1189.15 1235.72) scale(0.6806 0.7831)">HGF</text>
</g>
<g class="chart" id="chart-ellagic-acid">
<clipPath id="clip8"><path d="M1471.06 1112.4V1017h23.9V1112.4zM1514.29 1112.4V971.8h23.9V1112.4zM1557.51 1112.4V1019.4h23.9V1112.4zM1600.74 1112.4V1080h23.9V1112.4zM1643.96 1112.4V1104h23.9V1112.4zM1687.19 1112.4V1109.6h23.9V1112.4zM1730.41 1112.4V1065.8h23.9V1112.4zM1773.64 1112.4V1085.8h23.9V1112.4zM1816.86 1112.4V1083.7h23.9V1112.4zM1860.09 1112.4V1105h23.9V1112.4zM1903.31 1112.4V1111h23.9V1112.4zM1946.54 1112.4V1111h23.9V1112.4z"/></clipPath>
<path class="err-out" d="M1478.41 1013.3h9.2M1483.01 1013.3V1018.9M1478.41 1018.9h9.2M1521.64 963h9.2M1526.24 963V979.4M1521.64 979.4h9.2M1564.86 1014.1h9.2M1569.46 1014.1V1023.4M1564.86 1023.4h9.2M1608.09 1076h9.2M1612.69 1076V1082.9M1608.09 1082.9h9.2M1651.31 1102.9h9.2M1655.91 1102.9V1105.2M1651.31 1105.2h9.2M1694.54 1108.5h9.2M1699.14 1108.5V1110.6M1694.54 1110.6h9.2M1737.76 1061.8h9.2M1742.36 1061.8V1068.8M1737.76 1068.8h9.2M1780.99 1082.9h9.2M1785.59 1082.9V1087.6M1780.99 1087.6h9.2M1824.21 1082.9h9.2M1828.81 1082.9V1084.6M1824.21 1084.6h9.2M1867.44 1104.3h9.2M1872.04 1104.3V1105.8M1867.44 1105.8h9.2M1910.66 1110.3h9.2M1953.89 1110.3h9.2"/>
<path class="bars" d="M1471.06 1112.4V1017h23.9V1112.4zM1514.29 1112.4V971.8h23.9V1112.4zM1557.51 1112.4V1019.4h23.9V1112.4zM1600.74 1112.4V1080h23.9V1112.4zM1643.96 1112.4V1104h23.9V1112.4zM1687.19 1112.4V1109.6h23.9V1112.4zM1730.41 1112.4V1065.8h23.9V1112.4zM1773.64 1112.4V1085.8h23.9V1112.4zM1816.86 1112.4V1083.7h23.9V1112.4zM1860.09 1112.4V1105h23.9V1112.4zM1903.31 1112.4V1111h23.9V1112.4zM1946.54 1112.4V1111h23.9V1112.4z"/>
<path class="err-in" d="M1478.41 1013.3h9.2M1483.01 1013.3V1018.9M1478.41 1018.9h9.2M1521.64 963h9.2M1526.24 963V979.4M1521.64 979.4h9.2M1564.86 1014.1h9.2M1569.46 1014.1V1023.4M1564.86 1023.4h9.2M1608.09 1076h9.2M1612.69 1076V1082.9M1608.09 1082.9h9.2M1651.31 1102.9h9.2M1655.91 1102.9V1105.2M1651.31 1105.2h9.2M1694.54 1108.5h9.2M1699.14 1108.5V1110.6M1694.54 1110.6h9.2M1737.76 1061.8h9.2M1742.36 1061.8V1068.8M1737.76 1068.8h9.2M1780.99 1082.9h9.2M1785.59 1082.9V1087.6M1780.99 1087.6h9.2M1824.21 1082.9h9.2M1828.81 1082.9V1084.6M1824.21 1084.6h9.2M1867.44 1104.3h9.2M1872.04 1104.3V1105.8M1867.44 1105.8h9.2M1910.66 1110.3h9.2M1953.89 1110.3h9.2" clip-path="url(#clip8)"/>
<rect class="frame" x="1461.2" y="934" width="518.7" height="178.4"/>
<path class="divider" d="M1461.5 1112.4V1245.4M1591.15 1112.4V1245.4M1720.8 1112.4V1245.4M1850.45 1112.4V1245.4M1980.1 1112.4V1245.4"/>
<path class="baseline" d="M1460.05 1112.4H1981.05"/>
<text class="tt" transform="translate(1599.26 897.3) scale(0.9908 1.0600)">Ellagic acid</text>
<text class="ax" transform="translate(1378.3 940.5) rotate(-90) scale(1 1.0200)"><tspan x="-248.56" textLength="53.19" lengthAdjust="spacingAndGlyphs">1000</tspan> <tspan x="-189.83" textLength="50.48" lengthAdjust="spacingAndGlyphs">ng/g</tspan> <tspan x="-134.72" textLength="53.22" lengthAdjust="spacingAndGlyphs">fresh</tspan> <tspan x="-75.18" textLength="75.12" lengthAdjust="spacingAndGlyphs">weight</tspan></text>
<text class="tk" transform="translate(1391.27 941.4) scale(1.1097 1)">60.0</text>
<text class="tk" transform="translate(1391.27 971.13) scale(1.1097 1)">50.0</text>
<text class="tk" transform="translate(1391.27 1000.87) scale(1.1097 1)">40.0</text>
<text class="tk" transform="translate(1391.27 1030.6) scale(1.1097 1)">30.0</text>
<text class="tk" transform="translate(1391.27 1060.33) scale(1.1097 1)">20.0</text>
<text class="tk" transform="translate(1391.27 1090.07) scale(1.1097 1)">10.0</text>
<text class="tk" transform="translate(1404.41 1119.8) scale(1.1097 1)">0.0</text>
<text class="lb" transform="translate(1483.39 1171.35) scale(0.8438 0.9339)">D</text>
<text class="lb" transform="translate(1528.39 1171.35) scale(0.6595 0.9339)">E</text>
<text class="lb" transform="translate(1566.56 1171.35) scale(0.7444 0.9339)">R</text>
<text class="lb" transform="translate(1611.94 1171.35) scale(0.8438 0.9339)">D</text>
<text class="lb" transform="translate(1656.94 1171.35) scale(0.6595 0.9339)">E</text>
<text class="lb" transform="translate(1695.11 1171.35) scale(0.7444 0.9339)">R</text>
<text class="lb" transform="translate(1740.49 1171.35) scale(0.8438 0.9339)">D</text>
<text class="lb" transform="translate(1785.49 1171.35) scale(0.6595 0.9339)">E</text>
<text class="lb" transform="translate(1823.66 1171.35) scale(0.7444 0.9339)">R</text>
<text class="lb" transform="translate(1869.04 1171.35) scale(0.8438 0.9339)">D</text>
<text class="lb" transform="translate(1914.04 1171.35) scale(0.6595 0.9339)">E</text>
<text class="lb" transform="translate(1952.21 1171.35) scale(0.7444 0.9339)">R</text>
<text class="gp" transform="translate(1509.27 1235.72) scale(0.6764 0.7831)">TNS</text>
<text class="gp" transform="translate(1639.35 1235.72) scale(0.7304 0.7831)">TN</text>
<text class="gp" transform="translate(1759.12 1235.72) scale(0.6573 0.7831)">HGFS</text>
<text class="gp" transform="translate(1887.65 1235.72) scale(0.6806 0.7831)">HGF</text>
</g>
</g>
</svg>
</body></html>
